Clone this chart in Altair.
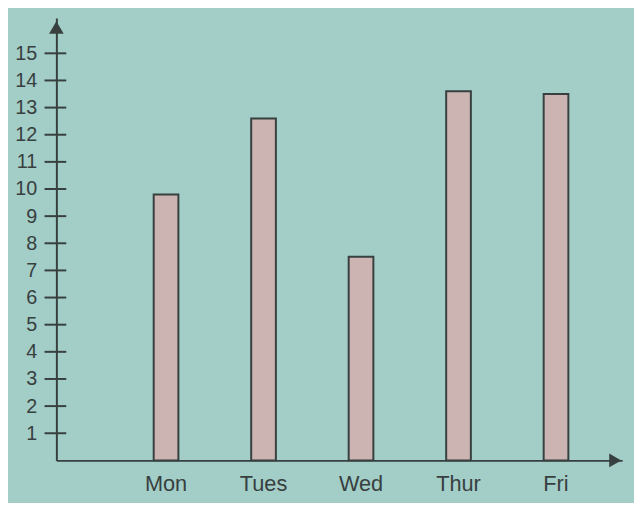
import altair as alt
import pandas as pd

days = ["Mon", "Tues", "Wed", "Thur", "Fri"]
values = [9.8, 12.6, 7.5, 13.6, 13.5]
tick_values = list(range(1, 16))

bars_df = pd.DataFrame({"day": days, "value": values})
ticks_df = pd.DataFrame({"t": tick_values})

BG = "#a3cdc7"
INK = "#37403f"
FILL = "#cbb4b1"

yscale = alt.Scale(domain=[0, 16.3], nice=False, zero=True)
xscale = alt.Scale(domain=days, paddingInner=0.7468, paddingOuter=0.775, align=0.644)

y_axis = alt.Axis(title=None, values=tick_values, ticks=False, grid=False,
                  domainColor=INK, domainWidth=2, labelPadding=20,
                  labelFontSize=20, labelColor=INK, labelFont="Liberation Sans",
                  labelOverlap=False, labelBound=False)

bars = alt.Chart(bars_df).mark_bar(fill=FILL, stroke=INK, strokeWidth=2).encode(
    x=alt.X("day:N", scale=xscale, sort=days,
            axis=alt.Axis(title=None, labelAngle=0, ticks=False, domain=True,
                          domainColor=INK, domainWidth=2, labelPadding=14,
                          labelFontSize=22, labelColor=INK, labelFont="Liberation Sans",
                          labelOverlap=False)),
    y=alt.Y("value:Q", scale=yscale, axis=y_axis),
)

ticks = alt.Chart(ticks_df).mark_rule(color=INK, strokeWidth=2).encode(
    y=alt.Y("t:Q", scale=yscale, axis=y_axis),
    x=alt.value(-12),
    x2=alt.value(10),
)

up_arrow = alt.Chart(pd.DataFrame({"v": [15.95]})).mark_point(
    shape="triangle-up", filled=True, color=INK, size=220, opacity=1
).encode(y=alt.Y("v:Q", scale=yscale, axis=y_axis), x=alt.value(0))

right_arrow = alt.Chart(pd.DataFrame({"v": [0]})).mark_point(
    shape="triangle-right", filled=True, color=INK, size=200, opacity=1
).encode(y=alt.Y("v:Q", scale=yscale, axis=y_axis), x=alt.value(566))

chart = alt.layer(bars, ticks, up_arrow, right_arrow).properties(
    width=573, height=448,
    autosize=alt.AutoSizeParams(type="none"),
    padding={"left": 49, "top": 7, "right": 12, "bottom": 40},
    background=BG,
).configure_view(stroke=None).configure_axis(labelOverlap=False)

chart.save("out.html", embed_options={"renderer": "svg", "actions": False})
